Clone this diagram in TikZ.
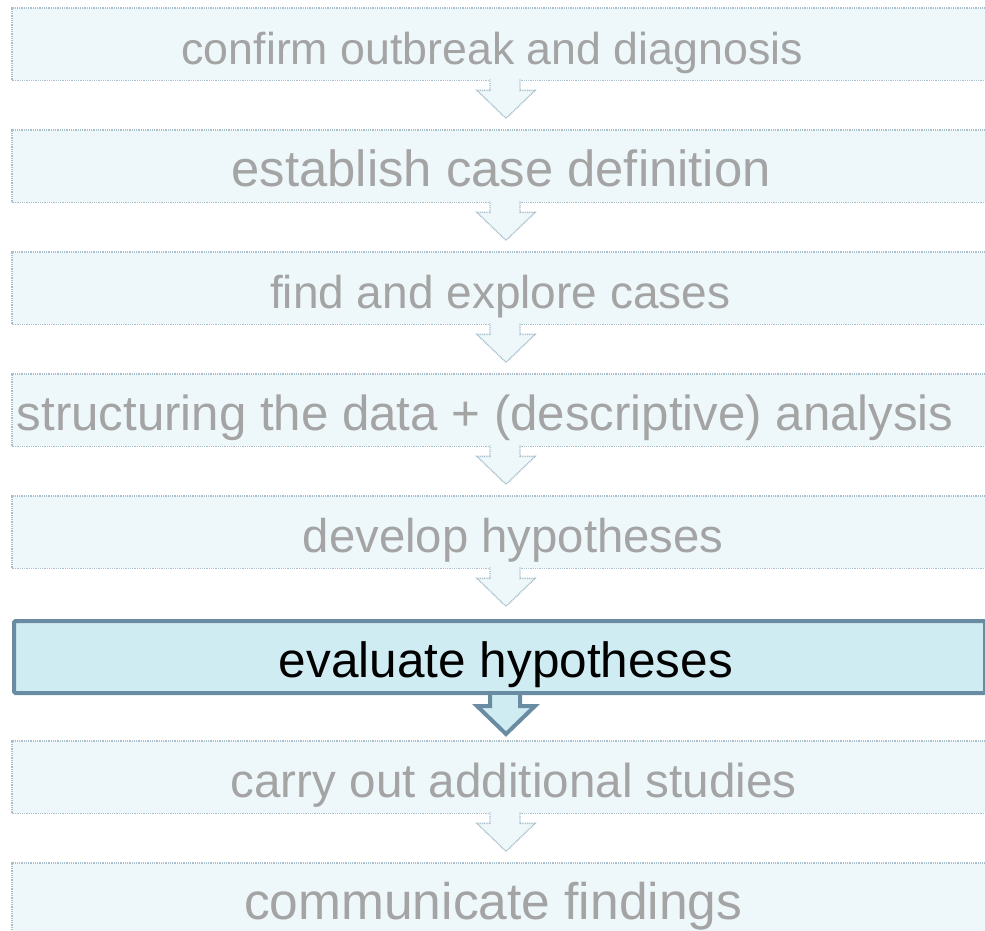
\documentclass[tikz,border=0pt]{standalone}
\usepackage{fontspec}
\setmainfont{Liberation Sans}
\usetikzlibrary{backgrounds}

\definecolor{fadefill}{HTML}{EEF8FB}
\definecolor{fadeline}{HTML}{A9BFCC}
\definecolor{fadetext}{HTML}{A4A4A4}
\definecolor{hifill}{HTML}{D0ECF3}
\definecolor{hiline}{HTML}{6A8CA2}

\tikzset{
  stage/.style={anchor=north west, minimum width=971pt, minimum height=72pt,
    inner sep=0pt, text height=40pt, text depth=0pt},
  fs/.style={font=\fontsize{#1}{#1}\selectfont},
  fadestage/.style={stage, text=fadetext},
  histage/.style={stage, text=black, fill=hifill, draw=hiline,
    line width=4pt, rounded corners=1.5pt},
  fadeframe/.style={fill=fadefill, draw=fadeline, line width=1.4pt,
    dash pattern=on 1pt off 0.8pt},
  fadearrow/.style={fill=fadefill, draw=fadeline, line width=1.4pt,
    dash pattern=on 1pt off 0.8pt, line join=miter},
  hiarrow/.style={fill=hifill, draw=hiline, line width=4pt, line join=miter},
  downarrow/.pic={
    \path[pic actions] (478,-1) -- (478,10) -- (465,10) -- (494,38)
      -- (523,10) -- (508,10) -- (508,-1);
  },
}
% shift a centred label sideways by half the given amount
\newcommand\nudge[1]{\hspace*{#1}}

\begin{document}
\begin{tikzpicture}[x=1pt, y=-1pt]
  \useasboundingbox (0,0) rectangle (985,930);

  % outbreak investigation steps
  \node[fadestage, fs=44.7] (s1) at (12,8)   {\nudge{-11pt}confirm outbreak and diagnosis};
  \node[fadestage, fs=50.8] (s2) at (12,130) {\nudge{7pt}establish case definition};
  \node[fadestage, fs=46]   (s3) at (12,252) {\nudge{5pt}find and explore cases};
  \node[fadestage, fs=49.2] (s4) at (12,374) {\nudge{-25pt}structuring the data + (descriptive) analysis};
  \node[fadestage, fs=47.3] (s5) at (12,496) {\nudge{31pt}develop hypotheses};
  \node[fadestage, fs=47.6] (s7) at (12,741) {\nudge{32pt}carry out additional studies};
  \node[fadestage, fs=51.5] (s8) at (12,863) {\nudge{-9pt}communicate findings};

  % pale frames behind the inactive steps, running past the right edge
  \begin{scope}[on background layer]
    \foreach \s in {s1,s2,s3,s4,s5,s7,s8}
      \path[fadeframe] (\s.south west) rectangle ([xshift=30pt]\s.north east);
  \end{scope}

  % arrows between the inactive steps
  \foreach \s in {s1,s2,s3,s4,s5}
    \pic[fadearrow] at (\s.south west) {downarrow};
  \pic[fadearrow] at (s7.south west) {downarrow};

  % current step
  \node[histage, fs=49.5] (s6) at (12,619) {\nudge{13pt}evaluate hypotheses};
  \pic[hiarrow] at ([yshift=-1pt]s6.south west) {downarrow};
\end{tikzpicture}
\end{document}
